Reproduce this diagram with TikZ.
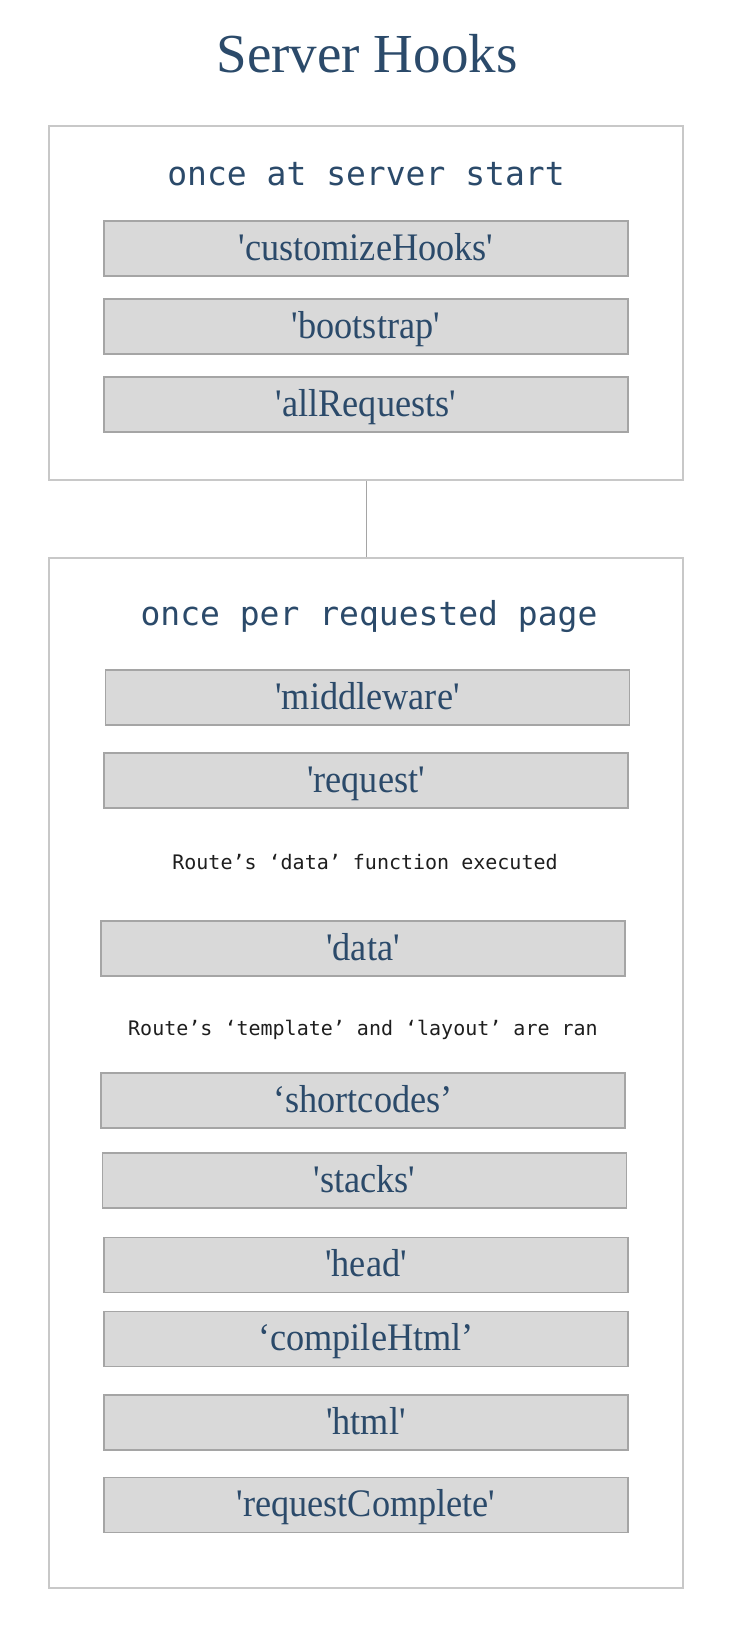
\documentclass[tikz,border=0pt]{standalone}
\usepackage{fontspec}
\newfontfamily\titlefont{Liberation Serif}[Ligatures=TeXOff]
\newfontfamily\boxfont{Liberation Serif}[Ligatures=TeXOff,FakeStretch=0.93]
\newfontfamily\monofont{DejaVu Sans Mono}
\definecolor{hookblue}{HTML}{2B4A6A}
\definecolor{hookfill}{HTML}{D9D9D9}
\definecolor{hookedge}{HTML}{A5A5A5}
\definecolor{outeredge}{HTML}{C8C8C8}
\definecolor{notecol}{HTML}{1E1E1E}
\tikzset{
  hookbox/.style={draw=hookedge, fill=hookfill, line width=1.6pt,
    minimum width=524pt, minimum height=55pt, inner sep=0pt,
    text height=27pt, text depth=4pt,
    text=hookblue, font=\boxfont\fontsize{39}{45}\selectfont},
  groupbox/.style={draw=outeredge, line width=1.6pt, fill=white,
    minimum width=634pt, inner sep=0pt},
  grouphead/.style={anchor=base, inner sep=0pt, text=hookblue,
    font=\monofont\fontsize{33}{38}\selectfont},
  note/.style={anchor=base, inner sep=0pt, text=notecol,
    font=\monofont\fontsize{20}{24}\selectfont},
  link/.style={draw=hookedge, line width=1pt}
}
\begin{document}
\begin{tikzpicture}[x=1pt,y=-1pt]
\useasboundingbox (0,0) rectangle (748,1634);
\fill[white] (0,0) rectangle (748,1634);
% title
\node[anchor=base, inner sep=0pt, text=hookblue, font=\titlefont\fontsize{55}{60}\selectfont] (title) at (367,72) {Server Hooks};
% group boxes
\node[groupbox, minimum height=354pt] (start) at (366,303) {};
\node[groupbox, minimum height=1030pt] (perpage) at (366,1073) {};
\draw[link] (start.south) -- (perpage.north);
% headers
\node[grouphead] (starthead) at (366,185) {once at server start};
\node[grouphead] (pagehead) at (369,625) {once per requested page};
% hooks at server start
\node[hookbox] (customize) at (366,248.5) {'customizeHooks'};
\node[hookbox] (bootstrap) at (366,326.5) {'bootstrap'};
\node[hookbox] (allreq) at (366,404.5) {'allRequests'};
% hooks per page
\node[hookbox] (middleware) at (367.5,697.5) {'middleware'};
\node[hookbox] (request) at (366,780.5) {'request'};
\node[note] (datanote) at (365,869) {Route’s ‘data’ function executed};
\node[hookbox] (data) at (363,948.5) {'data'};
\node[note] (tplnote) at (363,1035) {Route’s ‘template’ and ‘layout’ are ran};
\node[hookbox] (shortcodes) at (363,1100.5) {‘shortcodes’};
\node[hookbox] (stacks) at (364.5,1180.5) {'stacks'};
\node[hookbox] (head) at (366,1265) {'head'};
\node[hookbox] (compile) at (366,1339) {‘compileHtml’};
\node[hookbox] (html) at (366,1422.5) {'html'};
\node[hookbox] (complete) at (366,1505) {'requestComplete'};
\end{tikzpicture}
\end{document}
